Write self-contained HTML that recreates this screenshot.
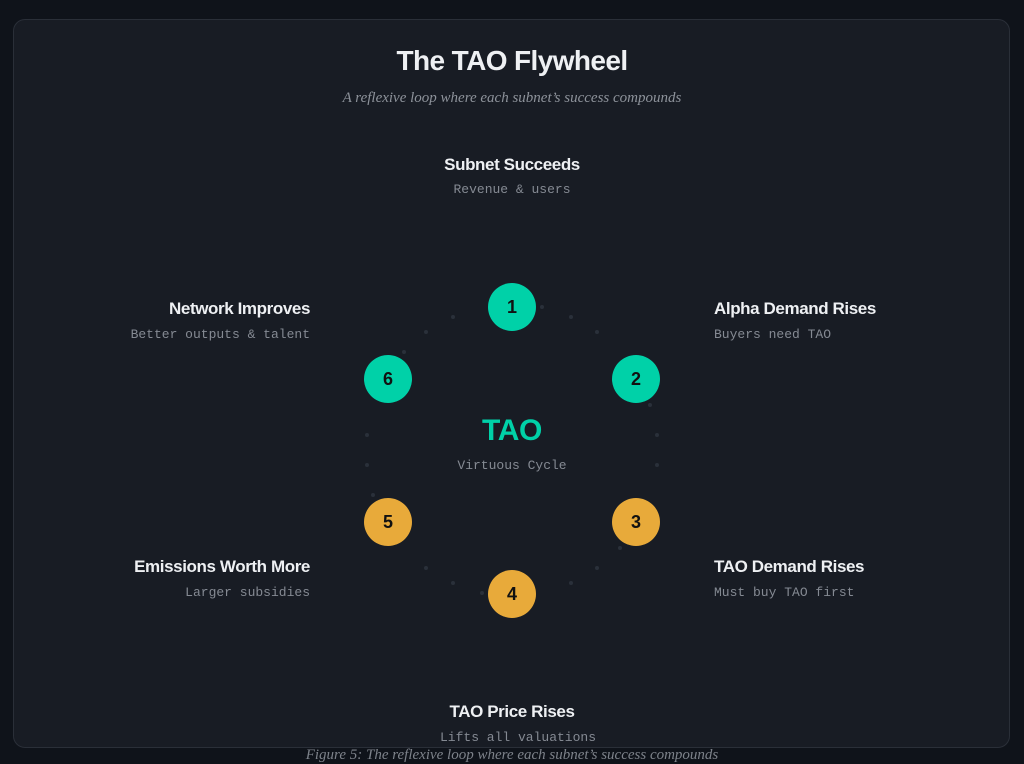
<!DOCTYPE html>
<html><head><meta charset="utf-8"><style>
html,body{margin:0;padding:0;width:1024px;height:755px;overflow:hidden;background:#0f131a;font-family:"Liberation Sans",sans-serif}
.card{position:absolute;left:13px;top:19px;width:997px;height:729px;background:#181c24;border:1px solid #2a2f38;border-radius:12px;box-sizing:border-box}
.t{position:absolute;color:#eef0f3;font-weight:bold;font-size:17px;letter-spacing:-0.4px;white-space:nowrap}
.s{position:absolute;color:#858a93;font-family:"Liberation Mono",monospace;font-size:13px;white-space:nowrap}
.c{text-align:center;transform:translateX(-50%)}
.r{text-align:right;transform:translateX(-100%)}
.n{position:absolute;width:48px;height:48px;border-radius:50%;color:#111;font-weight:bold;font-size:18px;line-height:48px;text-align:center;margin:-24px 0 0 -24px}
.g{background:#00d1a8}.o{background:#e8aa3a}
</style></head><body>
<div class="card"></div>
<div class="t c" style="left:512px;top:45px;font-size:28px;letter-spacing:-0.6px">The TAO Flywheel</div>
<div class="c" style="position:absolute;left:512px;top:90px;color:#8d929a;font-family:'Liberation Serif',serif;font-style:italic;font-size:15px;white-space:nowrap">A reflexive loop where each subnet’s success compounds</div>
<svg style="position:absolute;left:0;top:0" width="1024" height="755">
<g fill="#2a303a">
<circle cx="542" cy="307" r="2"/><circle cx="571" cy="317" r="2"/><circle cx="597" cy="332" r="2"/>
<circle cx="650" cy="405" r="2"/><circle cx="657" cy="435" r="2"/><circle cx="657" cy="465" r="2"/>
<circle cx="620" cy="548" r="2"/><circle cx="597" cy="568" r="2"/><circle cx="571" cy="583" r="2"/>
<circle cx="482" cy="593" r="2"/><circle cx="453" cy="583" r="2"/><circle cx="426" cy="568" r="2"/>
<circle cx="373" cy="495" r="2"/><circle cx="367" cy="465" r="2"/><circle cx="367" cy="435" r="2"/>
<circle cx="404" cy="352" r="2"/><circle cx="426" cy="332" r="2"/><circle cx="453" cy="317" r="2"/>
</g></svg>
<div class="n g" style="left:512px;top:307px">1</div>
<div class="n g" style="left:636px;top:379px">2</div>
<div class="n o" style="left:636px;top:522px">3</div>
<div class="n o" style="left:512px;top:594px">4</div>
<div class="n o" style="left:388px;top:522px">5</div>
<div class="n g" style="left:388px;top:379px">6</div>
<div class="t c" style="left:512px;top:414px;font-size:30px;color:#00d1a8">TAO</div>
<div class="s c" style="left:512px;top:458px">Virtuous Cycle</div>
<div class="t c" style="left:512px;top:155px">Subnet Succeeds</div>
<div class="s c" style="left:512px;top:182px">Revenue &amp; users</div>
<div class="t r" style="left:310px;top:299px">Network Improves</div>
<div class="s r" style="left:310px;top:327px">Better outputs &amp; talent</div>
<div class="t" style="left:714px;top:299px">Alpha Demand Rises</div>
<div class="s" style="left:714px;top:327px">Buyers need TAO</div>
<div class="t" style="left:714px;top:557px">TAO Demand Rises</div>
<div class="s" style="left:714px;top:585px">Must buy TAO first</div>
<div class="t r" style="left:310px;top:557px">Emissions Worth More</div>
<div class="s r" style="left:310px;top:585px">Larger subsidies</div>
<div class="t c" style="left:512px;top:702px">TAO Price Rises</div>
<div class="s c" style="left:518px;top:730px">Lifts all valuations</div>
<div class="c" style="position:absolute;left:512px;top:747px;color:#7d828a;font-family:'Liberation Serif',serif;font-style:italic;font-size:15px;white-space:nowrap">Figure 5: The reflexive loop where each subnet’s success compounds</div>
</body></html>
